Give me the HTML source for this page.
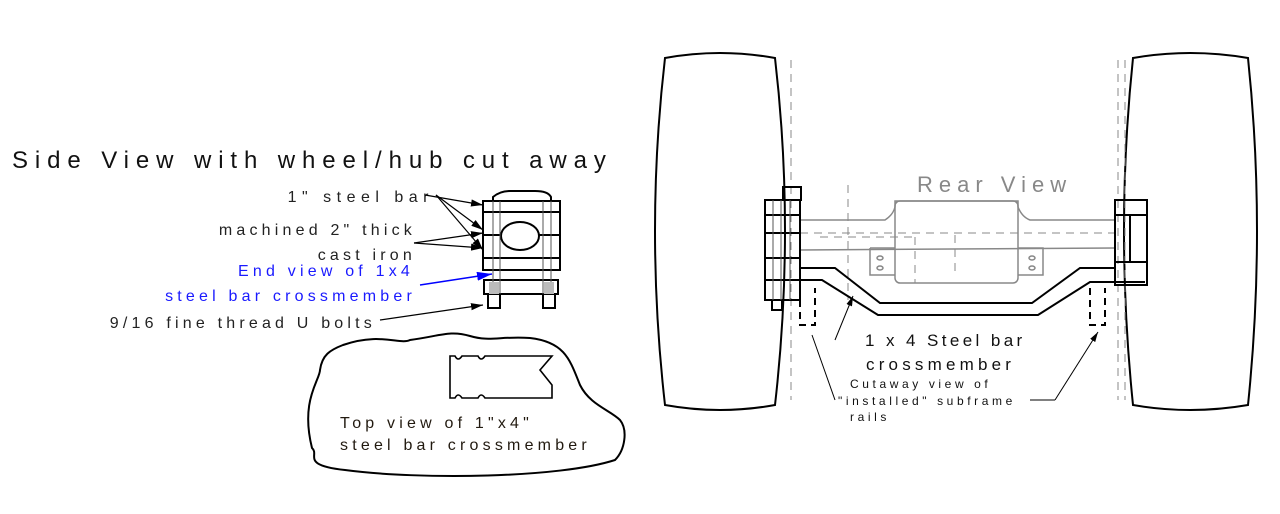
<!DOCTYPE html>
<html><head><meta charset="utf-8"><style>
html,body{margin:0;padding:0;background:#fff;width:1280px;height:514px;overflow:hidden}
text{font-family:"Liberation Sans",sans-serif}
</style></head><body>
<svg width="1280" height="514" viewBox="0 0 1280 514" xmlns="http://www.w3.org/2000/svg">
<defs><marker id="ah" markerWidth="10" markerHeight="6" refX="10" refY="3" orient="auto"><path d="M0,0 L10,3 L0,6z" fill="#000"/></marker>
<marker id="ahb" markerWidth="10" markerHeight="6" refX="10" refY="3" orient="auto"><path d="M0,0 L10,3 L0,6z" fill="#00f"/></marker></defs>
<text x="12" y="168" font-size="24" letter-spacing="6.9" fill="#111">Side View with wheel/hub cut away</text>
<g font-size="16" fill="#222" letter-spacing="4.2" text-anchor="end">
<text x="434" y="202" letter-spacing="5.5">1" steel bar</text>
<text x="416" y="235">machined 2" thick</text>
<text x="416" y="260">cast iron</text>
<text x="414" y="276" fill="#1a1aff">End view of 1x4</text>
<text x="416" y="301" fill="#1a1aff">steel bar crossmember</text>
<text x="376" y="328">9/16 fine thread U bolts</text>
</g>
<g stroke="#000" stroke-width="1.2" fill="none">
<line x1="425" y1="195" x2="483" y2="205" marker-end="url(#ah)"/>
<line x1="436" y1="195" x2="483" y2="230" marker-end="url(#ah)"/>
<line x1="436" y1="195" x2="483" y2="250" marker-end="url(#ah)"/>
<line x1="414" y1="243" x2="483" y2="233" marker-end="url(#ah)"/>
<line x1="414" y1="243" x2="483" y2="248" marker-end="url(#ah)"/>
<line x1="380" y1="320" x2="483" y2="305" marker-end="url(#ah)"/>
</g>
<line x1="420" y1="285" x2="492" y2="274" stroke="#00f" stroke-width="1.5" marker-end="url(#ahb)"/>
<g stroke="#000" stroke-width="2" fill="none">
<path d="M493,201 L493,197 Q500,191 510,191 L535,191 Q548,191 551,197 L551,201"/>
<rect x="483" y="201" width="77" height="69"/>
<line x1="483" y1="212" x2="560" y2="212"/><line x1="483" y1="235" x2="560" y2="235"/><line x1="483" y1="258" x2="560" y2="258"/>
<ellipse cx="520" cy="236" rx="19" ry="14" fill="#fff"/>
<rect x="484" y="280" width="74" height="14"/>
<rect x="488" y="294" width="12" height="14"/><rect x="543" y="294" width="12" height="14"/>
</g>
<g stroke="#555" stroke-width="1" fill="none">
<line x1="493" y1="201" x2="493" y2="294"/><line x1="500" y1="201" x2="500" y2="294"/>
<line x1="543" y1="201" x2="543" y2="294"/><line x1="551" y1="201" x2="551" y2="294"/>
</g>
<rect x="489" y="282" width="10" height="12" fill="#bbb"/><rect x="544" y="282" width="10" height="12" fill="#bbb"/>
<path d="M343,345 C380,332 400,345 410,340 C440,336 450,330 470,336 C490,342 500,336 530,338 C565,342 570,360 580,385 C590,405 610,410 620,420 C628,430 625,450 615,460 C560,478 420,480 345,470 C300,465 320,455 312,448 C300,400 320,380 320,370 C322,355 330,350 343,345z" stroke="#000" stroke-width="2" fill="none"/>
<path d="M450,356 L455,356 Q458,362 462,356 L478,356 Q481,362 485,356 L552,356 L540,370 L552,385 L552,398 L485,398 Q481,392 478,398 L462,398 Q458,392 455,398 L450,398z" stroke="#000" stroke-width="1.6" fill="none"/>
<g font-size="16" fill="#221a10" letter-spacing="4.2"><text x="340" y="428">Top view of 1"x4"</text><text x="340" y="450">steel bar crossmember</text></g>
<!-- wheels -->
<path d="M665,58 Q720,48 775,58 Q795,230 775,405 Q720,415 665,405 Q645,230 665,58z" stroke="#000" stroke-width="2" fill="#fff"/>
<path d="M1133,58 Q1190,48 1248,58 Q1266,230 1248,405 Q1190,415 1133,405 Q1115,230 1133,58z" stroke="#000" stroke-width="2" fill="#fff"/>
<g stroke="#888" stroke-width="1" stroke-dasharray="8,6">
<line x1="791" y1="60" x2="791" y2="400"/><line x1="848" y1="185" x2="848" y2="300"/><line x1="1118" y1="60" x2="1118" y2="400"/><line x1="1125" y1="60" x2="1125" y2="400"/><line x1="955" y1="235" x2="955" y2="275"/>
<line x1="800" y1="233" x2="1115" y2="233"/><line x1="820" y1="237" x2="915" y2="237"/><line x1="915" y1="237" x2="915" y2="283"/>
</g>
<text x="917" y="192" font-size="22" fill="#888" letter-spacing="6">Rear View</text>
<g stroke="#888" stroke-width="1.5" fill="none">
<path d="M800,220 L885,220 Q893,215 895,207 L895,201 L1018,201 L1018,207 Q1022,217 1030,220 L1115,220"/>
<path d="M800,250 L1115,248"/>
<rect x="895" y="201" width="123" height="82" rx="5"/>
<path d="M870,248 L895,248 M870,248 L870,275 L895,275"/><path d="M1018,248 L1043,248 L1043,275 L1018,275"/>
<ellipse cx="880" cy="258" rx="3" ry="2"/><ellipse cx="880" cy="268" rx="3" ry="2"/><ellipse cx="1032" cy="258" rx="3" ry="2"/><ellipse cx="1032" cy="268" rx="3" ry="2"/>
</g>
<g stroke="#000" stroke-width="2" fill="none">
<rect x="765" y="200" width="35" height="100"/>
<line x1="765" y1="215" x2="800" y2="215"/><line x1="765" y1="233" x2="800" y2="233"/><line x1="765" y1="258" x2="800" y2="258"/><line x1="765" y1="280" x2="800" y2="280"/>
<rect x="783" y="187" width="18" height="13"/><rect x="772" y="300" width="10" height="10"/>
<rect x="1115" y="200" width="32" height="85"/>
<line x1="1115" y1="215" x2="1147" y2="215"/><line x1="1115" y1="262" x2="1147" y2="262"/><line x1="1130" y1="215" x2="1130" y2="262"/>
<path d="M800,268 L835,268 L880,303 L1032,303 L1080,268 L1115,268"/>
<path d="M800,280 L822,280 L878,315 L1038,315 L1090,282 L1145,282"/>
</g>
<g stroke="#555" stroke-width="1"><line x1="773" y1="200" x2="773" y2="300"/><line x1="781" y1="200" x2="781" y2="300"/><line x1="790" y1="200" x2="790" y2="300"/></g>
<g stroke="#000" stroke-width="2" stroke-dasharray="7,5" fill="none">
<path d="M800,288 L800,325 L815,325 L815,288"/><path d="M1090,288 L1090,325 L1105,325 L1105,288"/>
</g>
<g stroke="#000" stroke-width="1" fill="none">
<line x1="835" y1="340" x2="853" y2="296" marker-end="url(#ah)"/>
<line x1="835" y1="400" x2="812" y2="335"/>
<line x1="1030" y1="400" x2="1055" y2="400"/><line x1="1055" y1="400" x2="1098" y2="332" marker-end="url(#ah)"/>
</g>
<g fill="#111"><text x="865" y="346" font-size="17" letter-spacing="3.4">1 x 4 Steel bar</text><text x="866" y="370" font-size="17" letter-spacing="4.2">crossmember</text></g>
<g fill="#111" font-size="12" letter-spacing="3.6"><text x="850" y="388">Cutaway view of</text><text x="838" y="405">"installed" subframe</text><text x="850" y="421">rails</text></g>
</svg>
</body></html>
